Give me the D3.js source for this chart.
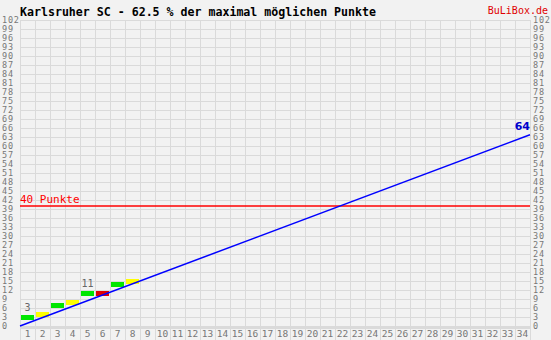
<!DOCTYPE html>
<html>
<head>
<meta charset="utf-8">
<script src="https://cdn.jsdelivr.net/npm/d3@7"></script>
<style>
  html, body { margin: 0; padding: 0; background: #f2f2f2; }
  svg { display: block; }
</style>
</head>
<body>
<svg id="chart" width="551" height="340"></svg>
<script>
// season so far
var matchdays = [1, 2, 3, 4, 5, 6, 7, 8];
var points    = [3, 4, 7, 8, 11, 11, 14, 15];
var results   = ["S", "U", "S", "U", "S", "N", "S", "U"]; // Sieg / Unentschieden / Niederlage
var labelled  = [1, 5];

var totalGames = 34;
var projection = [0, 63.75];
var projectedLabel = "64";
var target = 40;

var yTicks = d3.range(0, 103, 3);
var xTicks = d3.range(1, totalGames + 1);

var colors = { S: "#00e600", U: "#ffff00", N: "#e00000" };

var svg = d3.select("#chart"),
  plotLeft = 20, plotRight = 530, plotTop = 20, plotBottom = 326,
  x = d3.scaleLinear().domain([0, totalGames]).range([plotLeft, plotRight]),
  y = d3.scaleLinear().domain([0, 102]).range([plotBottom, plotTop]),
  mono = "'DejaVu Sans Mono', monospace";

svg.append("rect").attr("width", 551).attr("height", 340).attr("fill", "#f2f2f2");

// grid
var grid = svg.append("g").attr("stroke", "#dadada").attr("shape-rendering", "crispEdges");
grid.selectAll(".h").data(yTicks).join("line")
  .attr("x1", plotLeft).attr("x2", plotRight)
  .attr("y1", d => Math.round(y(d)) + 0.5).attr("y2", d => Math.round(y(d)) + 0.5);
grid.selectAll(".v").data(d3.range(0, totalGames + 1)).join("line")
  .attr("x1", d => x(d) + 0.5).attr("x2", d => x(d) + 0.5)
  .attr("y1", plotTop).attr("y2", 340);
grid.append("line").attr("x1", plotLeft).attr("x2", plotRight)
  .attr("y1", plotBottom + 1.5).attr("y2", plotBottom + 1.5).attr("stroke-width", 2);

// y labels both sides
[2, 533].forEach(function(px) {
  svg.append("g").selectAll("text").data(yTicks).join("text")
    .attr("x", px).attr("y", d => y(d)).attr("dy", "0.35em")
    .attr("font-family", mono).attr("font-size", 8.5).attr("letter-spacing", 0.8).attr("fill", "#777")
    .text(d => d);
});

// x labels
svg.append("g").selectAll("text").data(xTicks).join("text")
  .attr("x", d => x(d - 0.5)).attr("y", 337)
  .attr("text-anchor", "middle")
  .attr("font-family", mono).attr("font-size", 9.5).attr("fill", "#777")
  .text(d => d);

// 40 Punkte line
svg.append("line")
  .attr("x1", plotLeft).attr("x2", plotRight)
  .attr("y1", y(target)).attr("y2", y(target))
  .attr("stroke", "#ff0000").attr("stroke-width", 1.5);
svg.append("text").attr("x", plotLeft).attr("y", y(target) - 3)
  .attr("font-family", mono).attr("font-size", 11).attr("fill", "#ff0000")
  .text(target + " Punkte");

// result bars
svg.append("g").attr("shape-rendering", "crispEdges").selectAll("rect").data(matchdays).join("rect")
  .attr("x", d => x(d - 1) + 1).attr("width", x(1) - x(0) - 2)
  .attr("y", (d, i) => y(points[i]) - 2).attr("height", 5)
  .attr("fill", (d, i) => colors[results[i]]);

svg.append("g").selectAll("text").data(labelled).join("text")
  .attr("x", d => x(d - 0.5)).attr("y", d => y(points[d - 1]) - 6)
  .attr("text-anchor", "middle")
  .attr("font-family", mono).attr("font-size", 10).attr("fill", "#666")
  .text(d => points[d - 1]);

// projection
svg.append("line")
  .attr("x1", x(0)).attr("y1", y(projection[0]))
  .attr("x2", x(totalGames)).attr("y2", y(projection[1]))
  .attr("stroke", "#0000ff").attr("stroke-width", 1.5);
svg.append("text").attr("x", plotRight).attr("y", y(projection[1]) - 5)
  .attr("text-anchor", "end")
  .attr("font-family", "'DejaVu Sans', sans-serif").attr("font-weight", "bold")
  .attr("font-size", 11).attr("fill", "#0000cc")
  .text(projectedLabel);

// titles
svg.append("text").attr("x", plotLeft).attr("y", 16)
  .attr("font-family", mono).attr("font-weight", "bold").attr("font-size", 11.6).attr("fill", "#000")
  .text("Karlsruher SC - 62.5 % der maximal möglichen Punkte");
svg.append("text").attr("x", 548).attr("y", 14).attr("text-anchor", "end")
  .attr("font-family", mono).attr("font-size", 10).attr("fill", "#e00000")
  .text("BuLiBox.de");
</script>
</body>
</html>
